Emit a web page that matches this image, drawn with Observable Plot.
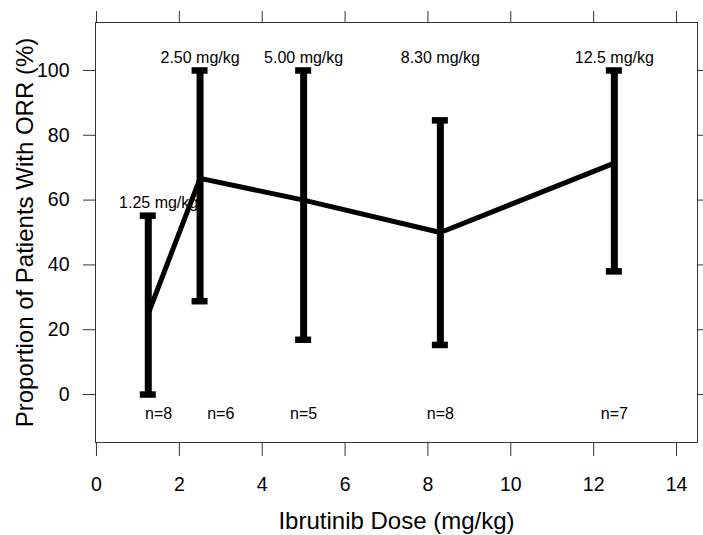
<!DOCTYPE html>
<html>
<head>
<meta charset="utf-8">
<script src="https://cdn.jsdelivr.net/npm/d3@7"></script>
<script src="https://cdn.jsdelivr.net/npm/@observablehq/plot@0.6"></script>
<style>
  html, body { margin: 0; padding: 0; background: #fff; }
  #chart svg { display: block; }
</style>
</head>
<body>
<div id="chart"></div>
<script>
// Ibrutinib dose levels and overall response rate (ORR) with 95% CI
const doses = [1.25, 2.5, 5.0, 8.3, 12.5];
const orr = [25, 66.7, 60, 50, 71.4];
const ciLow = [0, 28.8, 16.9, 15.3, 38];
const ciHigh = [55.2, 100, 100, 84.6, 100];
const nPatients = [8, 6, 5, 8, 7];
const doseLabels = ["1.25 mg/kg", "2.50 mg/kg", "5.00 mg/kg", "8.30 mg/kg", "12.5 mg/kg"];

// annotation anchors, in data units (dose, %)
const doseLabelX = [1.5, 2.5, 5.0, 8.3, 12.5];
const doseLabelY = [59, 104, 104, 104, 104];
const nLabelX = [1.5, 3.0, 5.0, 8.3, 12.5];
const nLabelY = -6;

const xTicks = [0, 2, 4, 6, 8, 10, 12, 14];
const yTicks = [0, 20, 40, 60, 80, 100];

const rows = doses.map((d, i) => ({
  dose: d, orr: orr[i], lo: ciLow[i], hi: ciHigh[i],
  label: doseLabels[i], lx: doseLabelX[i], ly: doseLabelY[i],
  n: `n=${nPatients[i]}`, nx: nLabelX[i], ny: nLabelY
}));

const ink = "#000";
const frameInk = "#333";

const chart = Plot.plot({
  width: 703,
  height: 535,
  marginTop: 22,
  marginRight: 6,
  marginBottom: 93,
  marginLeft: 95,
  style: { fontFamily: "'Liberation Sans', Arial, sans-serif", color: ink, background: "#fff" },
  x: { domain: [-0.024, 14.507], axis: null },
  y: { domain: [-14.8, 114.8], axis: null },
  marks: [
    Plot.frame({ stroke: frameInk, strokeWidth: 1 }),
    // axes: labelled bottom/left, tick-only top/right
    Plot.axisX({ anchor: "bottom", ticks: xTicks, tickSize: 14, tickPadding: 21, fontSize: 19.5, label: null, stroke: frameInk }),
    Plot.axisX({ anchor: "top", ticks: xTicks, tickSize: 12, tickFormat: () => "", label: null, stroke: frameInk }),
    Plot.axisY({ anchor: "left", ticks: yTicks, tickSize: 12, tickPadding: 14, fontSize: 19.5, label: null, stroke: frameInk }),
    Plot.axisY({ anchor: "right", ticks: yTicks, tickSize: 6, tickFormat: () => "", label: null, stroke: frameInk }),
    // axis titles
    Plot.text(["Ibrutinib Dose (mg/kg)"], {
      frameAnchor: "bottom", textAnchor: "middle", lineAnchor: "middle", dy: 79, fontSize: 24, fill: ink
    }),
    Plot.text(["Proportion of Patients With ORR (%)"], {
      frameAnchor: "left", textAnchor: "middle", lineAnchor: "middle", rotate: -90, dx: -70, fontSize: 24, fill: ink
    }),
    // dose and sample-size annotations
    Plot.text(rows, { x: "lx", y: "ly", text: "label", fontSize: 16, fill: ink }),
    Plot.text(rows, { x: "nx", y: "ny", text: "n", fontSize: 16, fill: ink }),
    // confidence intervals with caps
    Plot.ruleX(rows, { x: "dose", y1: "lo", y2: "hi", stroke: ink, strokeWidth: 7 }),
    Plot.ruleY(rows, { y: "hi", x1: "dose", x2: "dose", insetLeft: -8, insetRight: -8, stroke: ink, strokeWidth: 6.5 }),
    Plot.ruleY(rows, { y: "lo", x1: "dose", x2: "dose", insetLeft: -8, insetRight: -8, stroke: ink, strokeWidth: 6.5 }),
    // ORR trend
    Plot.line(rows, { x: "dose", y: "orr", stroke: ink, strokeWidth: 5, strokeLinejoin: "round", strokeLinecap: "butt" })
  ]
});

document.getElementById("chart").appendChild(chart);
</script>
</body>
</html>
